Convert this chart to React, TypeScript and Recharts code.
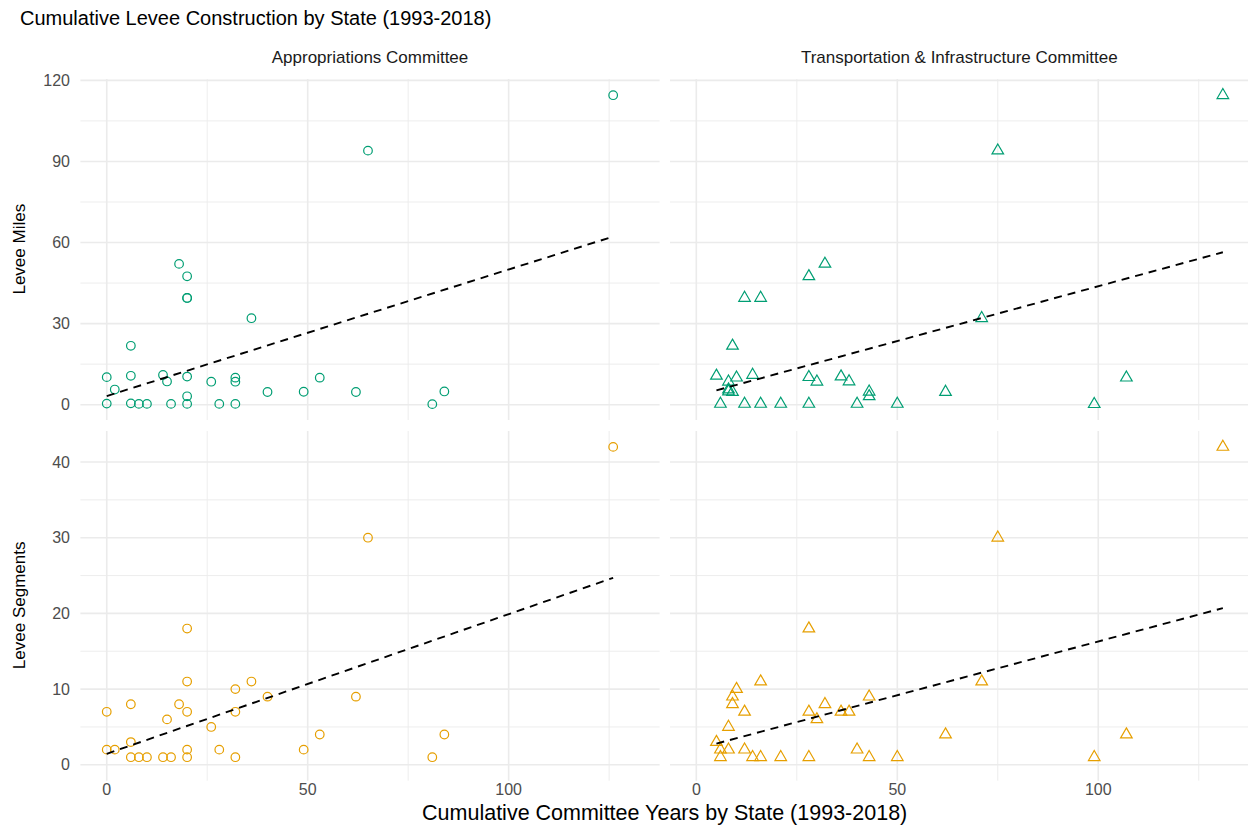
import React from 'react';
import { ScatterChart, Scatter, XAxis, YAxis, ReferenceLine } from 'recharts';

// ---------- data ----------
// Appropriations Committee column
const apprYearsMilesX = [0, 0, 2, 6, 6, 6, 8, 10, 14, 15, 16, 18, 20, 20, 20, 20, 20, 20, 26, 28, 32, 32, 32, 36, 40, 49, 53, 62, 65, 81, 84, 126];
const apprLeveeMiles = [10.2, 0.4, 5.6, 21.8, 10.7, 0.5, 0.3, 0.3, 11, 8.6, 0.3, 52.1, 47.5, 39.5, 39.5, 10.4, 3.1, 0.3, 8.5, 0.3, 10, 8.5, 0.3, 32, 4.7, 4.8, 10, 4.7, 94, 0.2, 4.9, 114.5];
const apprYearsSegX = [0, 0, 2, 6, 6, 6, 8, 10, 14, 15, 16, 18, 20, 20, 20, 20, 20, 26, 28, 32, 32, 32, 36, 40, 49, 53, 62, 65, 81, 84, 126];
const apprLeveeSegments = [7, 2, 2, 8, 3, 1, 1, 1, 1, 6, 1, 8, 18, 11, 7, 2, 1, 5, 2, 10, 7, 1, 11, 9, 2, 4, 9, 30, 1, 4, 42];

// Transportation & Infrastructure Committee column
const tiYearsMilesX = [5, 6, 8, 8, 8, 9, 9, 10, 12, 12, 14, 16, 16, 21, 28, 28, 28, 30, 32, 36, 38, 40, 43, 43, 50, 62, 71, 75, 99, 107, 131];
const tiLeveeMiles = [10.7, 0.3, 8.5, 5.6, 4.9, 4.7, 21.8, 10.0, 39.5, 0.3, 11, 39.5, 0.3, 0.3, 47.5, 10.2, 0.3, 8.5, 52.1, 10.4, 8.6, 0.3, 4.8, 3.1, 0.3, 4.7, 32, 94, 0.2, 10, 114.5];
const tiYearsSegX = [5, 6, 6, 8, 8, 9, 9, 10, 12, 12, 14, 16, 16, 21, 28, 28, 28, 30, 32, 36, 38, 40, 43, 43, 50, 62, 71, 75, 99, 107, 131];
const tiLeveeSegments = [3, 2, 1, 5, 2, 8, 9, 10, 7, 2, 1, 11, 1, 1, 18, 7, 1, 6, 8, 7, 7, 2, 9, 1, 1, 4, 11, 30, 1, 4, 42];

// fitted (lm) trend line end points
const apprTrendX = [0, 126];
const apprTrendMiles = [3.2, 62.2];
const apprTrendSegments = [1.45, 24.7];
const tiTrendX = [5, 131];
const tiTrendMiles = [5.3, 56.4];
const tiTrendSegments = [2.8, 20.7];

// axes
const xDomain = [-6.55, 137.55];
const xTicks = [0, 50, 100];
const xMinorTicks = [25, 75, 125];
const milesDomain = [-5.73, 120.5];
const milesTicks = [0, 30, 60, 90, 120];
const milesMinorTicks = [15, 45, 75, 105];
const segDomain = [-2.1, 44.1];
const segTicks = [0, 10, 20, 30, 40];
const segMinorTicks = [5, 15, 25, 35];

const stripLabels = ['Appropriations Committee', 'Transportation & Infrastructure Committee'];
const rowLabels = ['Levee Miles', 'Levee Segments'];
const title = 'Cumulative Levee Construction by State (1993-2018)';
const xTitle = 'Cumulative Committee Years by State (1993-2018)';

// ---------- styles / layout ----------
const FONT = '"Liberation Sans", Arial, Helvetica, sans-serif';
const GREEN = '#009E73';
const ORANGE = '#E69F00';
const GRID = '#EBEBEB';

const LEFT_X = 80.4;
const PANEL_W = 579.2;
const GAP = 10.1;
const RIGHT_X = LEFT_X + PANEL_W + GAP;
const TOP_Y = 78.6;
const TOP_H = 341.2;
const BOT_Y = 430.5;
const BOT_H = 349.7;
const PAD = 10;
const XAXIS_H = 40;

const toPts = (xs: number[], ys: number[]) => xs.map((x, i) => ({ x, y: ys[i] }));

const makeCircle = (color: string) => (props: any) => {
  const { cx, cy } = props;
  if (cx == null || cy == null) return <g />;
  return <circle cx={cx} cy={cy} r={4.3} fill="none" stroke={color} strokeWidth={1.2} />;
};

const makeTriangle = (color: string) => (props: any) => {
  const { cx, cy } = props;
  if (cx == null || cy == null) return <g />;
  const r = 4.3;
  const top = 1.555 * r;
  const base = 0.778 * r;
  const hw = 1.347 * r;
  const pts = `${cx},${cy - top} ${cx + hw},${cy + base} ${cx - hw},${cy + base}`;
  return <polygon points={pts} fill="none" stroke={color} strokeWidth={1.2} strokeLinejoin="miter" />;
};

const noShape = () => <g />;

type PanelProps = {
  xs: number[];
  ys: number[];
  trendX: number[];
  trendY: number[];
  color: string;
  triangle: boolean;
  yDomain: number[];
  yTicks: number[];
  yMinor: number[];
  showX: boolean;
  showY: boolean;
  left: number;
  top: number;
  plotH: number;
};

function Panel(p: PanelProps) {
  const width = (p.showY ? LEFT_X : 0) + PANEL_W;
  const height = PAD + p.plotH + (p.showX ? XAXIS_H : 0);
  const tickStyle = { fill: '#4D4D4D', fontSize: 16, fontFamily: FONT };
  const data = toPts(p.xs, p.ys);
  const trend = toPts(p.trendX, p.trendY);
  return (
    <div style={{ position: 'absolute', left: p.left, top: p.top - PAD }}>
      <ScatterChart width={width} height={height} margin={{ top: PAD, right: 0, bottom: 0, left: 0 }}>
        <XAxis
          type="number"
          dataKey="x"
          domain={xDomain}
          ticks={xTicks}
          allowDataOverflow
          hide={!p.showX}
          height={XAXIS_H}
          axisLine={false}
          tickLine={false}
          tickSize={0}
          tickMargin={3.1}
          tick={tickStyle}
          interval={0}
        />
        <YAxis
          type="number"
          dataKey="y"
          domain={p.yDomain}
          ticks={p.yTicks}
          allowDataOverflow
          hide={!p.showY}
          width={LEFT_X}
          axisLine={false}
          tickLine={false}
          tickSize={0}
          tickMargin={10.4}
          tick={tickStyle}
          interval={0}
        />
        {p.yMinor.map((v) => (
          <ReferenceLine key={'hm' + v} y={v} stroke={GRID} strokeWidth={0.9} />
        ))}
        {xMinorTicks.map((v) => (
          <ReferenceLine key={'vm' + v} x={v} stroke={GRID} strokeWidth={0.9} />
        ))}
        {p.yTicks.map((v) => (
          <ReferenceLine key={'hM' + v} y={v} stroke={GRID} strokeWidth={1.6} />
        ))}
        {xTicks.map((v) => (
          <ReferenceLine key={'vM' + v} x={v} stroke={GRID} strokeWidth={1.6} />
        ))}
        <Scatter
          data={data}
          shape={p.triangle ? makeTriangle(p.color) : makeCircle(p.color)}
          isAnimationActive={false}
        />
        <Scatter
          data={trend}
          shape={noShape}
          line={{ stroke: '#000000', strokeWidth: 1.9, strokeDasharray: '8 6' }}
          isAnimationActive={false}
        />
      </ScatterChart>
    </div>
  );
}

export default function App() {
  const leftCenter = LEFT_X + PANEL_W / 2;
  const rightCenter = RIGHT_X + PANEL_W / 2;
  const allCenter = (LEFT_X + RIGHT_X + PANEL_W) / 2;
  return (
    <div
      style={{
        position: 'absolute',
        left: 0,
        top: 0,
        width: 1248,
        height: 827,
        overflow: 'hidden',
        background: '#ffffff',
        fontFamily: FONT,
      }}
    >
      <svg width={1248} height={827} style={{ position: 'absolute', left: 0, top: 0 }}>
        <text x={20} y={25.3} fontSize={20} fill="#000" fontFamily={FONT}>
          {title}
        </text>
        <text x={leftCenter} y={63} fontSize={17} fill="#1A1A1A" textAnchor="middle" fontFamily={FONT}>
          {stripLabels[0]}
        </text>
        <text x={rightCenter} y={63} fontSize={17} fill="#1A1A1A" textAnchor="middle" fontFamily={FONT}>
          {stripLabels[1]}
        </text>
        <text
          x={0}
          y={0}
          fontSize={17}
          fill="#000"
          textAnchor="middle"
          fontFamily={FONT}
          transform={`translate(25,${TOP_Y + TOP_H / 2}) rotate(-90)`}
        >
          {rowLabels[0]}
        </text>
        <text
          x={0}
          y={0}
          fontSize={17}
          fill="#000"
          textAnchor="middle"
          fontFamily={FONT}
          transform={`translate(25,${BOT_Y + BOT_H / 2}) rotate(-90)`}
        >
          {rowLabels[1]}
        </text>
        <text x={allCenter} y={819.5} fontSize={21.5} fill="#000" textAnchor="middle" fontFamily={FONT}>
          {xTitle}
        </text>
      </svg>

      <Panel xs={apprYearsMilesX} ys={apprLeveeMiles} trendX={apprTrendX} trendY={apprTrendMiles}
        color={GREEN} triangle={false} yDomain={milesDomain} yTicks={milesTicks} yMinor={milesMinorTicks}
        showX={false} showY={true} left={0} top={TOP_Y} plotH={TOP_H} />
      <Panel xs={tiYearsMilesX} ys={tiLeveeMiles} trendX={tiTrendX} trendY={tiTrendMiles}
        color={GREEN} triangle={true} yDomain={milesDomain} yTicks={milesTicks} yMinor={milesMinorTicks}
        showX={false} showY={false} left={RIGHT_X} top={TOP_Y} plotH={TOP_H} />
      <Panel xs={apprYearsSegX} ys={apprLeveeSegments} trendX={apprTrendX} trendY={apprTrendSegments}
        color={ORANGE} triangle={false} yDomain={segDomain} yTicks={segTicks} yMinor={segMinorTicks}
        showX={true} showY={true} left={0} top={BOT_Y} plotH={BOT_H} />
      <Panel xs={tiYearsSegX} ys={tiLeveeSegments} trendX={tiTrendX} trendY={tiTrendSegments}
        color={ORANGE} triangle={true} yDomain={segDomain} yTicks={segTicks} yMinor={segMinorTicks}
        showX={true} showY={false} left={RIGHT_X} top={BOT_Y} plotH={BOT_H} />
    </div>
  );
}
